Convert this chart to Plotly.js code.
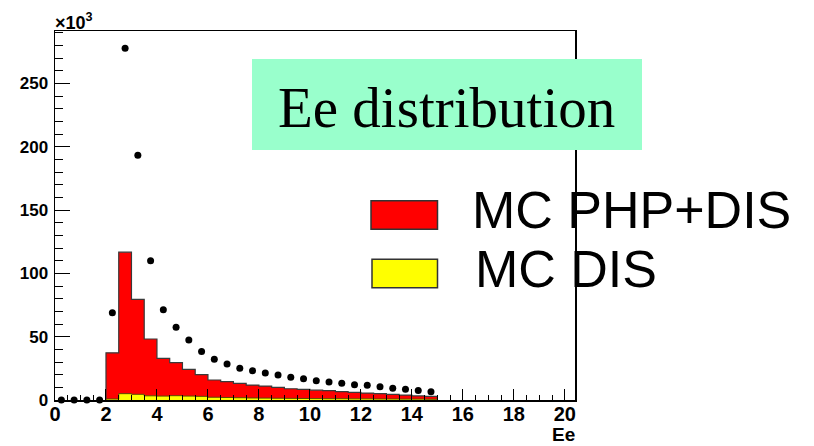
<!DOCTYPE html>
<html>
<head>
<meta charset="utf-8">
<script src="https://cdn.plot.ly/plotly-3.0.1.min.js"></script>
<style>
  html, body { margin: 0; padding: 0; background: #ffffff; }
  #chart { width: 814px; height: 446px; }
</style>
</head>
<body>
<div id="chart"></div>
<script>
// ---- data (values in units of 10^3) ----
const binLowEdges = [2.0, 2.5, 3.0, 3.5, 4.0, 4.5, 5.0, 5.5, 6.0, 6.5, 7.0, 7.5, 8.0, 8.5, 9.0, 9.5, 10.0, 10.5, 11.0, 11.5, 12.0, 12.5, 13.0, 13.5, 14.0, 14.5];
const binWidth = 0.5;
const mcPhpDis = [37.3, 116.8, 79.5, 48.2, 32.9, 29.5, 24.2, 20.1, 15.8, 14.5, 13.2, 11.8, 11.0, 10.0, 8.9, 8.4, 7.8, 7.4, 6.6, 6.1, 5.5, 5.0, 4.5, 3.9, 3.2, 2.9];
const mcDis = [0.8, 5.0, 4.5, 3.3, 3.1, 3.4, 3.1, 2.9, 2.2, 2.0, 1.8, 1.6, 1.5, 1.4, 1.3, 1.2, 1.1, 1.0, 1.0, 0.9, 0.9, 0.8, 0.8, 0.7, 0.7, 0.6];
const dataX = [0.25, 0.75, 1.25, 1.75, 2.25, 2.75, 3.25, 3.75, 4.25, 4.75, 5.25, 5.75, 6.25, 6.75, 7.25, 7.75, 8.25, 8.75, 9.25, 9.75, 10.25, 10.75, 11.25, 11.75, 12.25, 12.75, 13.25, 13.75, 14.25, 14.75];
const dataY = [0, 0, 0, 0, 68.9, 277.9, 193.4, 110.0, 71.3, 57.4, 47.4, 38.3, 32.1, 28.4, 25.0, 23.2, 21.3, 19.7, 17.9, 16.8, 15.3, 14.2, 13.2, 12.1, 11.6, 10.5, 9.2, 8.4, 7.6, 6.6];
const xTickVals = [0, 2, 4, 6, 8, 10, 12, 14, 16, 18, 20];
const yTickVals = [0, 50, 100, 150, 200, 250];
const titleText = 'Ee distribution';
const xTitle = 'Ee';
const legendLabels = ['MC PHP+DIS', 'MC DIS'];

// build step outline (hv) from bins
function stepPath(lows, vals, w) {
  const xs = [lows[0]], ys = [0];
  for (let i = 0; i < lows.length; i++) { xs.push(lows[i]); ys.push(vals[i]); }
  const end = lows[lows.length - 1] + w;
  xs.push(end); ys.push(vals[vals.length - 1]);
  xs.push(end); ys.push(0);
  return {x: xs, y: ys};
}
const redStep = stepPath(binLowEdges, mcPhpDis, binWidth);
const yelStep = stepPath(binLowEdges, mcDis, binWidth);

const traces = [
  {x: redStep.x, y: redStep.y, type: 'scatter', mode: 'lines', line: {shape: 'hv', color: '#3a3a3a', width: 1.2},
   fill: 'tozeroy', fillcolor: '#ff0000', name: legendLabels[0], showlegend: false, hoverinfo: 'skip'},
  {x: yelStep.x, y: yelStep.y, type: 'scatter', mode: 'lines', line: {shape: 'hv', color: '#5a4a00', width: 1},
   fill: 'tozeroy', fillcolor: '#ffff00', name: legendLabels[1], showlegend: false, hoverinfo: 'skip'},
  {x: dataX, y: dataY, type: 'scatter', mode: 'markers', marker: {color: '#000000', size: 7}, showlegend: false, cliponaxis: false}
];

// pixel helpers -> paper coords (plot area 55..575 x, 31..400 y)
const L = 55, R = 575, T = 31, B = 400;
const px = v => (v - L) / (R - L);
const py = v => (B - v) / (B - T);

const layout = {
  width: 814, height: 446,
  margin: {l: L, r: 814 - R, t: T, b: 446 - B, pad: 0},
  paper_bgcolor: '#ffffff', plot_bgcolor: '#ffffff',
  showlegend: false,
  xaxis: {
    range: [0, 20.4], tickvals: xTickVals, ticktext: xTickVals.map(String),
    ticks: 'inside', ticklen: 11, tickwidth: 1, tickcolor: '#000',
    minor: {dtick: 0.5, tick0: 0, ticks: 'inside', ticklen: 5, tickcolor: '#000', showgrid: false},
    showgrid: false, zeroline: false, showline: true, mirror: true, linecolor: '#000', linewidth: 1.5,
    tickfont: {family: 'Liberation Sans, Arial, sans-serif', size: 20, color: '#000', weight: 'bold'},
    ticklabelstandoff: -5
  },
  yaxis: {
    range: [0, 291.5], tickvals: yTickVals, ticktext: yTickVals.map(String),
    ticks: 'inside', ticklen: 15, tickwidth: 1, tickcolor: '#000',
    minor: {dtick: 10, tick0: 0, ticks: 'inside', ticklen: 8, tickcolor: '#000', showgrid: false},
    showgrid: false, zeroline: false, showline: true, mirror: true, linecolor: '#000', linewidth: 1.5,
    tickfont: {family: 'Liberation Sans, Arial, sans-serif', size: 17, color: '#000', weight: 'bold'},
    ticklabelstandoff: 2
  },
  shapes: [
    {type: 'rect', xref: 'paper', yref: 'paper', x0: px(252), x1: px(642), y0: py(150), y1: py(59),
     fillcolor: '#99ffcc', line: {width: 0}, layer: 'above'},
    {type: 'rect', xref: 'paper', yref: 'paper', x0: px(371), x1: px(437.5), y0: py(229.3), y1: py(200.7),
     fillcolor: '#ff0000', line: {width: 1.5, color: '#333'}, layer: 'above'},
    {type: 'rect', xref: 'paper', yref: 'paper', x0: px(372), x1: px(437.5), y0: py(287.7), y1: py(259.3),
     fillcolor: '#ffff00', line: {width: 1.5, color: '#333'}, layer: 'above'}
  ],
  annotations: [
    {text: titleText, xref: 'paper', yref: 'paper', x: px(446.5), y: py(107), xanchor: 'center', yanchor: 'middle',
     showarrow: false, font: {family: 'Liberation Serif, Times New Roman, serif', size: 57, color: '#000'}},
    {text: legendLabels[0], xref: 'paper', yref: 'paper', x: px(470), y: py(209.5), xanchor: 'left', yanchor: 'middle',
     showarrow: false, font: {family: 'Liberation Sans, Arial, sans-serif', size: 52, color: '#000'}},
    {text: legendLabels[1], xref: 'paper', yref: 'paper', x: px(473), y: py(269), xanchor: 'left', yanchor: 'middle',
     showarrow: false, font: {family: 'Liberation Sans, Arial, sans-serif', size: 52, color: '#000'}},
    {text: '×10<sup>3</sup>', xref: 'paper', yref: 'paper', x: px(53), y: py(21), xanchor: 'left', yanchor: 'middle',
     showarrow: false, font: {family: 'Liberation Sans, Arial, sans-serif', size: 18, color: '#000', weight: 'bold'}},
    {text: xTitle, xref: 'paper', yref: 'paper', x: px(577), y: py(434), xanchor: 'right', yanchor: 'middle',
     showarrow: false, font: {family: 'Liberation Sans, Arial, sans-serif', size: 19, color: '#000', weight: 'bold'}}
  ]
};

Plotly.newPlot('chart', traces, layout, {displayModeBar: false, staticPlot: true});
</script>
</body>
</html>
